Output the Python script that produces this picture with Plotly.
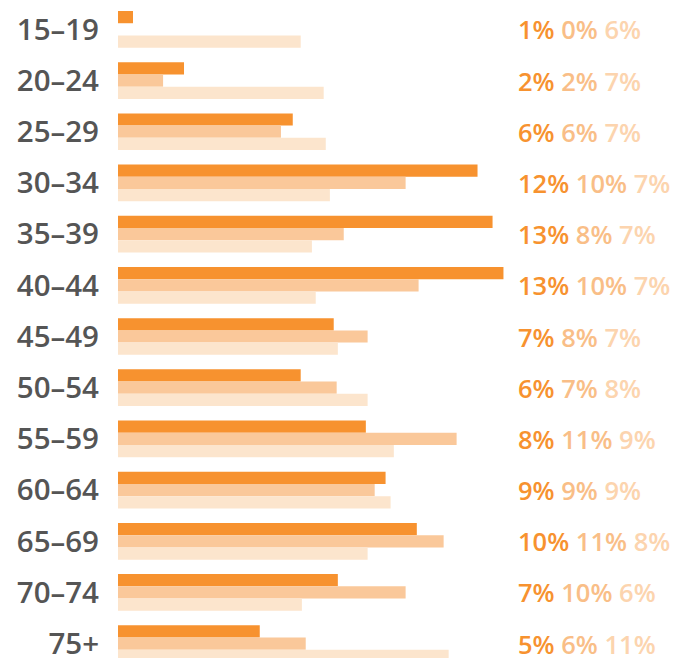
import plotly.graph_objects as go

categories = ["15–19", "20–24", "25–29", "30–34", "35–39", "40–44", "45–49",
              "50–54", "55–59", "60–64", "65–69", "70–74", "75+"]
series_a = [0.51, 2.24, 5.93, 12.20, 12.71, 13.08, 7.32, 6.20, 8.41, 9.08, 10.14, 7.46, 4.81]
series_b = [0.00, 1.53, 5.53, 9.76, 7.66, 10.20, 8.47, 7.42, 11.49, 8.71, 11.05, 9.76, 6.37]
series_c = [6.20, 6.98, 7.05, 7.19, 6.58, 6.71, 7.46, 8.47, 9.36, 9.25, 8.47, 6.24, 11.22]

bar_colors = ["#F7922F", "#FAC89A", "#FCE5CD"]
label_colors = ["#F7922F", "#F9BE87", "#FCD4AE"]

fig = go.Figure()
for vals, col in zip([series_a, series_b, series_c], bar_colors):
    fig.add_trace(go.Bar(y=categories, x=vals, orientation="h",
                         marker=dict(color=col, line=dict(width=0)),
                         hoverinfo="skip"))

for i, cat in enumerate(categories):
    parts = []
    for vals, col in zip([series_a, series_b, series_c], label_colors):
        parts.append(f"<span style='color:{col}'>{vals[i]:.0f}%</span>")
    fig.add_annotation(x=1.022, xref="paper", y=cat, yref="y",
                       text=" ".join(parts), showarrow=False,
                       xanchor="left", yanchor="middle",
                       font=dict(family="Open Sans", size=25.5, weight=600))

fig.update_layout(
    width=674, height=655,
    margin=dict(l=110, r=174.6, t=0, b=0),
    barmode="group", bargap=0.283, bargroupgap=0,
    showlegend=False,
    plot_bgcolor="white", paper_bgcolor="white",
    xaxis=dict(range=[0, 13.2], visible=False, fixedrange=True),
    yaxis=dict(range=[12.28, -0.417], showgrid=False, zeroline=False,
               showline=False, ticks="", ticklabelstandoff=18,
               tickfont=dict(family="Open Sans", size=29.5, color="#555555", weight=600),
               fixedrange=True),
)

fig.write_html("out.html")
